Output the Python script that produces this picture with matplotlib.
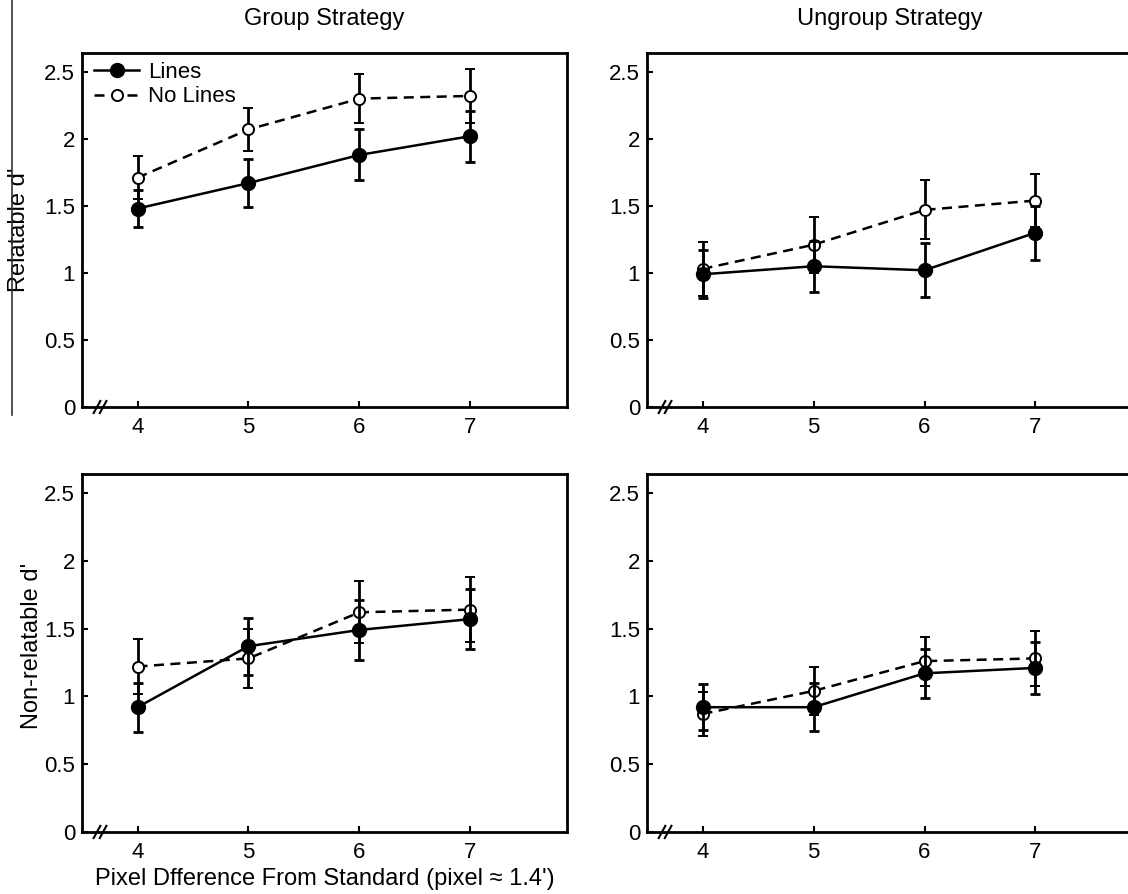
import matplotlib.pyplot as plt
from matplotlib.lines import Line2D

plt.rcParams['font.family'] = ['Liberation Sans', 'DejaVu Sans']

# pixel difference levels
x = [4, 5, 6, 7]

# Group strategy, relatable
grp_rel_lines = [1.48, 1.67, 1.88, 2.02]
grp_rel_lines_err = [0.14, 0.18, 0.19, 0.19]
grp_rel_nolines = [1.71, 2.07, 2.30, 2.32]
grp_rel_nolines_err = [0.16, 0.16, 0.18, 0.20]

# Ungroup strategy, relatable
ung_rel_lines = [0.99, 1.05, 1.02, 1.30]
ung_rel_lines_err = [0.18, 0.19, 0.20, 0.20]
ung_rel_nolines = [1.03, 1.21, 1.47, 1.54]
ung_rel_nolines_err = [0.20, 0.21, 0.22, 0.20]

# Group strategy, non-relatable
grp_non_lines = [0.92, 1.37, 1.49, 1.57]
grp_non_lines_err = [0.18, 0.21, 0.22, 0.22]
grp_non_nolines = [1.22, 1.28, 1.62, 1.64]
grp_non_nolines_err = [0.20, 0.22, 0.23, 0.24]

# Ungroup strategy, non-relatable
ung_non_lines = [0.92, 0.92, 1.17, 1.21]
ung_non_lines_err = [0.17, 0.175, 0.18, 0.19]
ung_non_nolines = [0.87, 1.04, 1.26, 1.28]
ung_non_nolines_err = [0.16, 0.18, 0.18, 0.20]

yticks = [0, 0.5, 1, 1.5, 2, 2.5]
ytick_labels = ['0', '0.5', '1', '1.5', '2', '2.5']

fig = plt.figure(figsize=(11.28, 8.94), dpi=100)

W = 0.430
ax_tl = fig.add_axes([0.0727, 0.5447, W, 0.396])
ax_tr = fig.add_axes([0.5736, 0.5447, W, 0.396])
ax_bl = fig.add_axes([0.0727, 0.0694, W, 0.4004])
ax_br = fig.add_axes([0.5736, 0.0694, W, 0.4004])

panels = [
    (ax_tl, grp_rel_lines, grp_rel_lines_err, grp_rel_nolines, grp_rel_nolines_err),
    (ax_tr, ung_rel_lines, ung_rel_lines_err, ung_rel_nolines, ung_rel_nolines_err),
    (ax_bl, grp_non_lines, grp_non_lines_err, grp_non_nolines, grp_non_nolines_err),
    (ax_br, ung_non_lines, ung_non_lines_err, ung_non_nolines, ung_non_nolines_err),
]

dash = (0, (4, 2.6))

for ax, yl, el, yn, en in panels:
    ax.errorbar(x, yn, yerr=en, color='black', ls=dash, lw=1.8,
                marker='o', ms=8, mfc='white', mec='black', mew=1.4,
                elinewidth=2, capsize=3.5, capthick=2, zorder=3)
    ax.errorbar(x, yl, yerr=el, color='black', ls='-', lw=1.8,
                marker='o', ms=10, mfc='black', mec='black',
                elinewidth=2, capsize=3.5, capthick=2, zorder=4)
    ax.set_xlim(3.5, 7.87)
    ax.set_ylim(0, 2.64)
    ax.set_xticks(x)
    ax.set_yticks(yticks)
    ax.set_yticklabels(ytick_labels)
    ax.tick_params(direction='in', length=4, width=1.5, labelsize=16,
                   top=False, right=False)
    ax.tick_params(axis='x', pad=7)
    ax.tick_params(axis='y', pad=5)
    for s in ax.spines.values():
        s.set_linewidth(2)
    # axis break marks
    for xb in [3.635, 3.69]:
        ax.plot([xb - 0.03, xb + 0.03], [-0.045, 0.045], color='black',
                lw=1.5, clip_on=False, zorder=5)

ax_tl.set_title('Group Strategy', fontsize=17, pad=20)
ax_tr.set_title('Ungroup Strategy', fontsize=17, pad=20)
ax_tl.set_ylabel("Relatable d'", fontsize=17)
ax_tl.yaxis.set_label_coords(-0.107, 0.5)
ax_bl.set_ylabel("Non-relatable d'", fontsize=17)
ax_bl.yaxis.set_label_coords(-0.08, 0.52)
ax_bl.set_xlabel("Pixel Dfference From Standard (pixel \u2248 1.4')", fontsize=17, labelpad=4)

handles = [
    Line2D([], [], color='black', lw=1.8, marker='o', ms=10, mfc='black'),
    Line2D([], [], color='black', lw=1.8, ls=dash, marker='o', ms=8,
           mfc='white', mew=1.4),
]
ax_tl.legend(handles, ['Lines', 'No Lines'], loc='upper left', frameon=False,
             fontsize=16, handlelength=2.0, handletextpad=0.4, labelspacing=0.15,
             borderaxespad=0.0, borderpad=0.3, bbox_to_anchor=(0.012, 0.993))

# stray vertical rule on the left edge of the scan
fig.add_artist(Line2D([12 / 1128, 12 / 1128], [1, 1 - 415 / 894], color='#333333', lw=1.2))

plt.savefig('out.png', dpi=100)
plt.close()
